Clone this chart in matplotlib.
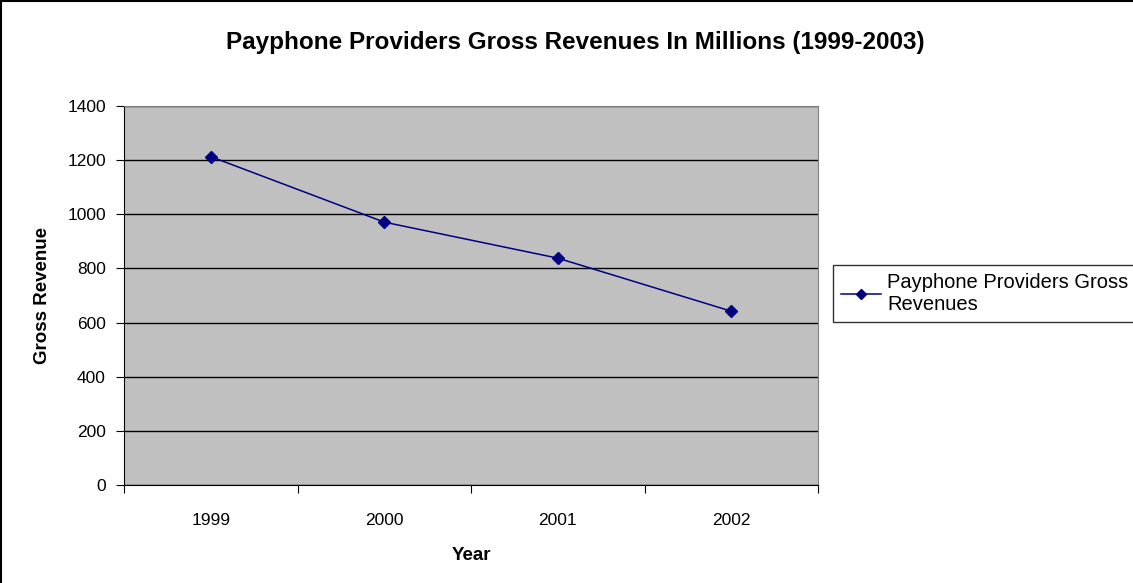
import matplotlib.pyplot as plt
import matplotlib.patches as mpatches
import numpy as np

years = ['1999', '2000', '2001', '2002']
revenues = [1213, 971, 838, 642]
y_ticks = [0, 200, 400, 600, 800, 1000, 1200, 1400]

plt.rcParams['font.family'] = ['Liberation Sans', 'DejaVu Sans']

fig = plt.figure(figsize=(11.33, 5.83), dpi=100)
ax = fig.add_axes([124 / 1133, 98 / 583, 694 / 1133, 379 / 583])
ax.set_facecolor('#C0C0C0')

x = np.arange(len(years)) + 0.5
ax.plot(x, revenues, color='#000080', linewidth=1.1, marker='D',
        markersize=6, label='Payphone Providers Gross\nRevenues', zorder=3)

ax.set_xlim(0, len(years))
ax.set_ylim(0, 1400)
ax.set_yticks(y_ticks)
ax.yaxis.grid(True, color='black', linewidth=1)
ax.set_axisbelow(True)

# category boundaries carry the tick marks, labels sit between them
ax.set_xticks(np.arange(len(years) + 1))
ax.set_xticklabels([])
ax.set_xticks(x, minor=True)
ax.set_xticklabels(years, minor=True)
ax.tick_params(axis='x', which='major', length=6, direction='out', color='black')
ax.tick_params(axis='x', which='minor', length=0, pad=20, labelsize=12.5)
ax.tick_params(axis='y', length=6, direction='out', labelsize=12.5, pad=7)

for side in ['top', 'right']:
    ax.spines[side].set_color('#808080')
for side in ['left', 'bottom']:
    ax.spines[side].set_color('black')

ax.set_xlabel('Year', fontsize=13.5, fontweight='bold', labelpad=14)
ax.set_ylabel('Gross Revenue', fontsize=13.5, fontweight='bold', labelpad=12)
fig.text(0.5075, 1 - 42 / 583, 'Payphone Providers Gross Revenues In Millions (1999-2003)',
         ha='center', va='center', fontsize=17.5, fontweight='bold')

leg = ax.legend(loc='upper left', bbox_to_anchor=(833 / 1133, 1 - 265 / 583),
                bbox_transform=fig.transFigure, fontsize=14.5, frameon=True,
                fancybox=False, edgecolor='black', borderpad=0.4,
                handlelength=2.0, handletextpad=0.3, borderaxespad=0,
                markerscale=0.8)
leg.get_frame().set_linewidth(1)

# outer chart border
fig.patches.append(mpatches.Rectangle((0.5 / 1133, -0.05), 1.1, 1.05 - 1 / 583,
                                      transform=fig.transFigure, fill=False,
                                      edgecolor='black', linewidth=1.5))

fig.savefig('out.png', dpi=100)
